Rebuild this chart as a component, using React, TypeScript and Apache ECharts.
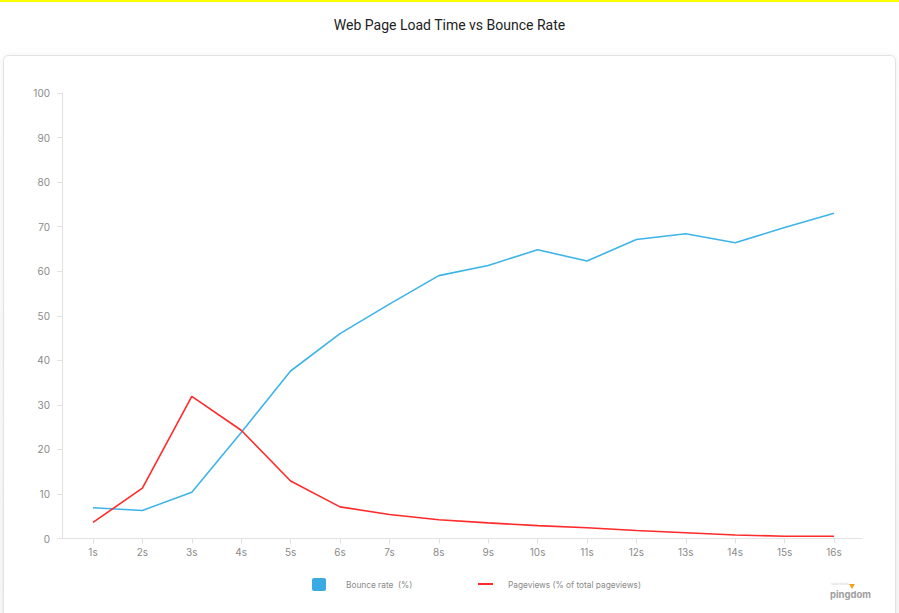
import React, { useEffect, useRef } from "react";
import * as echarts from "echarts";

const categories = ["1s", "2s", "3s", "4s", "5s", "6s", "7s", "8s", "9s", "10s", "11s", "12s", "13s", "14s", "15s", "16s"];
const bounceRate = [6.9, 6.3, 10.4, 23.8, 37.6, 46.0, 52.6, 59.0, 61.3, 64.8, 62.3, 67.1, 68.4, 66.4, 69.8, 73.0];
const pageviews = [3.6, 11.3, 31.9, 24.3, 12.9, 7.1, 5.4, 4.2, 3.5, 2.9, 2.4, 1.8, 1.3, 0.8, 0.5, 0.5];
const titleText = "Web Page Load Time vs Bounce Rate";
const legendNames = ["Bounce rate  (%)", "Pageviews (% of total pageviews)"];

const FONT = "Inter, Roboto, 'Noto Sans', sans-serif";
const LABEL_COLOR = "#8a8a8a";
const AXIS_COLOR = "#e2e2e2";
const BLUE = "#3db4e8";
const RED = "#ff2a2a";

export default function App() {
  const ref = useRef<HTMLDivElement>(null);
  useEffect(() => {
    if (!ref.current) return;
    const chart = echarts.init(ref.current, undefined, { renderer: "svg" });
    chart.setOption({
      animation: false,
      backgroundColor: "#ffffff",
      title: {
        text: titleText,
        left: "center",
        top: 13,
        textStyle: { fontFamily: "Roboto, sans-serif", fontSize: 14, fontWeight: "normal", color: "#222222" },
      },
      graphic: [
        {
          type: "rect",
          z: -20,
          silent: true,
          shape: { x: 0, y: 0, width: 899, height: 613 },
          style: {
            fill: new echarts.graphic.LinearGradient(0, 0, 0, 1, [
              { offset: 0, color: "#ffffff" },
              { offset: 1, color: "#f7f7f7" },
            ]),
          },
        },
        {
          type: "rect",
          z: -19,
          silent: true,
          shape: { x: 0, y: 0, width: 899, height: 2 },
          style: { fill: "#ffff00" },
        },
        {
          type: "rect",
          z: -18,
          silent: true,
          shape: { x: 3.5, y: 55.5, width: 892, height: 600, r: 5 },
          style: { fill: "#ffffff", stroke: "#e2e2e2", lineWidth: 1, shadowBlur: 4, shadowColor: "rgba(0,0,0,0.06)" },
        },
        {
          type: "rect",
          shape: { x: 312, y: 578, width: 14, height: 13, r: 2 },
          style: { fill: "#3aabe2" },
        },
        {
          type: "text",
          x: 346,
          y: 584.5,
          style: { text: legendNames[0], fontSize: 8.3, fontFamily: FONT, fill: LABEL_COLOR, verticalAlign: "middle" },
        },
        {
          type: "line",
          shape: { x1: 478, y1: 584, x2: 493, y2: 584 },
          style: { stroke: RED, lineWidth: 2 },
        },
        {
          type: "text",
          x: 508,
          y: 584.5,
          style: { text: legendNames[1], fontSize: 8.3, fontFamily: FONT, fill: LABEL_COLOR, verticalAlign: "middle" },
        },
        {
          type: "text",
          x: 831,
          y: 584,
          style: { text: "solarwinds", fontSize: 3.5, fontFamily: FONT, fill: "#d0d0d0", verticalAlign: "middle" },
        },
        {
          type: "polygon",
          shape: { points: [[849, 584], [855, 584], [852, 589]] },
          style: { fill: "#f7a11a" },
        },
        {
          type: "text",
          x: 830,
          y: 594,
          style: { text: "pingdom", fontSize: 9.5, fontWeight: "bold", fontFamily: FONT, fill: "#a0a0a0", verticalAlign: "middle" },
        },
      ],
      grid: [
        { left: 62, top: 93, width: 800, height: 445.5 },
        { left: 68.3, top: 93, width: 790.4, height: 445.5 },
      ],
      xAxis: [
        {
          gridIndex: 0,
          type: "value",
          min: 0,
          max: 1,
          axisLine: { show: true, lineStyle: { color: AXIS_COLOR, width: 1 } },
          axisTick: { show: false },
          axisLabel: { show: false },
          splitLine: { show: false },
        },
        {
          gridIndex: 1,
          type: "category",
          data: categories,
          boundaryGap: true,
          axisLine: { show: false },
          axisTick: { show: true, alignWithLabel: true, length: 5, lineStyle: { color: AXIS_COLOR } },
          axisLabel: { color: LABEL_COLOR, fontSize: 10, fontFamily: FONT, margin: 8 },
          splitLine: { show: false },
        },
      ],
      yAxis: [
        {
          gridIndex: 0,
          type: "value",
          min: 0,
          max: 100,
          interval: 10,
          axisLine: { show: true, lineStyle: { color: AXIS_COLOR, width: 1 } },
          axisTick: { show: true, length: 5, lineStyle: { color: AXIS_COLOR } },
          axisLabel: { color: LABEL_COLOR, fontSize: 10, fontFamily: FONT, margin: 12 },
          splitLine: { show: false },
        },
        {
          gridIndex: 1,
          type: "value",
          min: 0,
          max: 100,
          show: false,
        },
      ],
      series: [
        {
          name: legendNames[0],
          type: "line",
          xAxisIndex: 1,
          yAxisIndex: 1,
          data: bounceRate,
          showSymbol: false,
          symbol: "none",
          lineStyle: { color: BLUE, width: 1.6 },
          itemStyle: { color: BLUE },
        },
        {
          name: legendNames[1],
          type: "line",
          xAxisIndex: 1,
          yAxisIndex: 1,
          data: pageviews,
          showSymbol: false,
          symbol: "none",
          lineStyle: { color: RED, width: 1.6 },
          itemStyle: { color: RED },
        },
      ],
    });
    return () => chart.dispose();
  }, []);
  return (
    <div style={{ position: "absolute", left: 0, top: 0, width: 899, height: 613 }}>
      <div ref={ref} style={{ width: 899, height: 613 }} />
    </div>
  );
}
